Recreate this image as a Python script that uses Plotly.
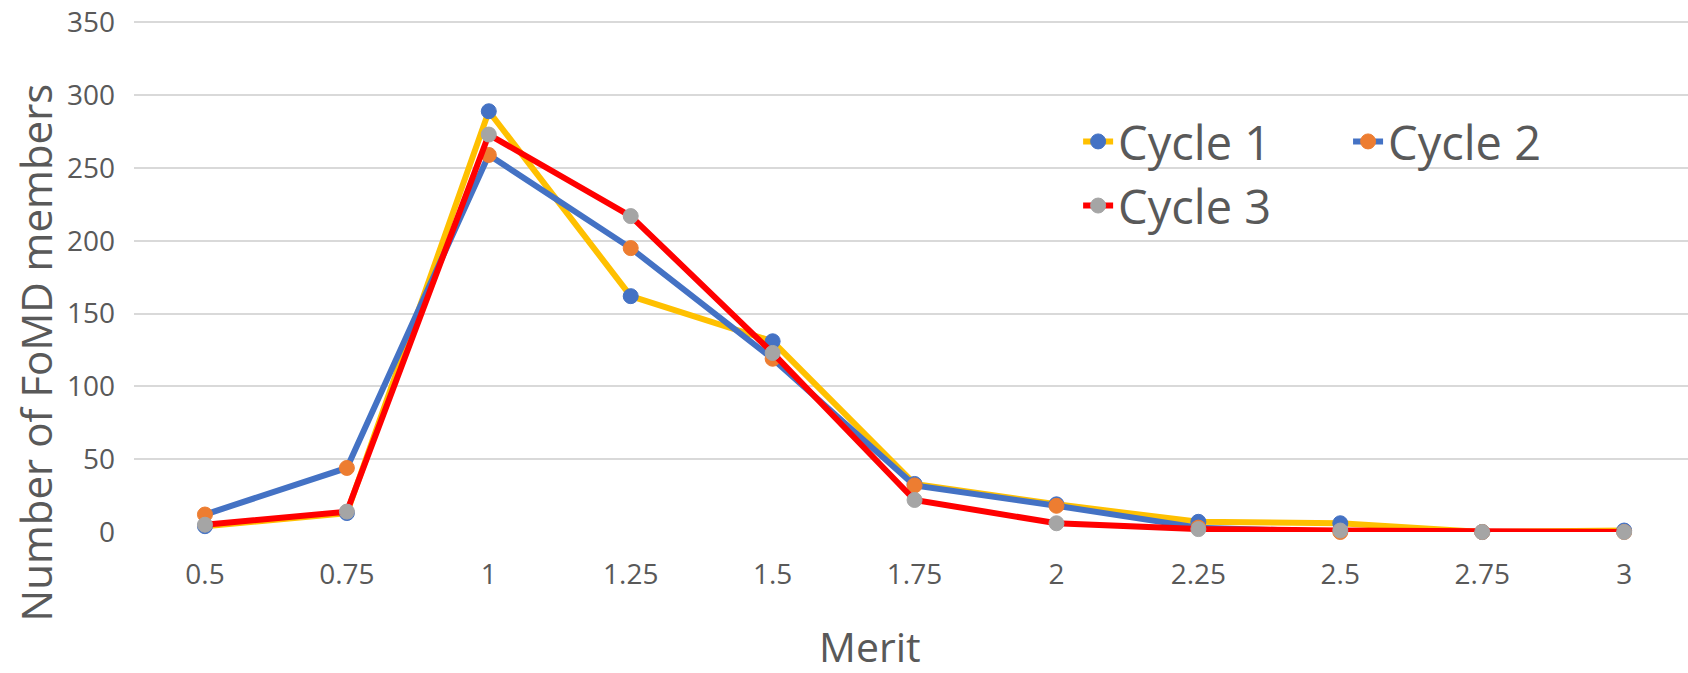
import plotly.graph_objects as go

merit = ["0.5", "0.75", "1", "1.25", "1.5", "1.75", "2", "2.25", "2.5", "2.75", "3"]
cycle1 = [4, 13, 289, 162, 131, 33, 19, 7, 6, 0, 1]
cycle2 = [12, 44, 259, 195, 119, 32, 18, 3, 0, 0, 0]
cycle3 = [5, 14, 273, 217, 123, 22, 6, 2, 1, 0, 0]
y_ticks = [0, 50, 100, 150, 200, 250, 300, 350]

series = [
    ("Cycle 1", cycle1, "#FFC000", "#4472C4", "legend"),
    ("Cycle 2", cycle2, "#4472C4", "#ED7D31", "legend2"),
    ("Cycle 3", cycle3, "#FF0000", "#A5A5A5", "legend"),
]

FONT = "Open Sans"
TXT = "#595959"

W, H = 1688, 673
L, R = 133.7, 0
BOT = 532                    # pixel y of value 0
PXU = 510 / 350              # pixels per unit
YTOP = 351
T = BOT - YTOP * PXU
B = H - BOT
PW = W - L - R
PH = H - T - B


def px(page_x):
    return (page_x - L) / PW


def py(page_y):
    return (H - B - page_y) / PH


fig = go.Figure()
for name, vals, lc, mc, lg in series:
    fig.add_trace(go.Scatter(
        x=merit, y=vals, name=name, mode="lines+markers",
        line=dict(color=lc, width=6),
        marker=dict(color=mc, size=15, line=dict(color=mc, width=1)),
        cliponaxis=False, legend=lg, hoverinfo="skip",
    ))

leg_common = dict(
    orientation="v", xanchor="left", yanchor="top",
    font=dict(size=47, color=TXT, family=FONT),
    bgcolor="rgba(0,0,0,0)", itemsizing="trace", tracegroupgap=0,
)

fig.update_layout(
    width=W, height=H,
    margin=dict(l=L, r=R, t=T, b=B, autoexpand=False),
    plot_bgcolor="white", paper_bgcolor="white",
    font=dict(family=FONT, color=TXT),
    showlegend=True,
    legend=dict(x=px(1078), y=py(104), **leg_common),
    legend2=dict(x=px(1348), y=py(104), **leg_common),
    xaxis=dict(
        type="category", range=[-0.5, 10.45], automargin=False,
        showgrid=False, showline=False, zeroline=False,
        tickfont=dict(size=28, color=TXT, family=FONT),
        ticklabelstandoff=23, ticklabeloverflow="allow",
    ),
    yaxis=dict(
        range=[0, YTOP], tickvals=y_ticks, automargin=False,
        showgrid=True, gridcolor="#D9D9D9", gridwidth=1.5,
        zeroline=False, showline=False,
        tickfont=dict(size=28, color=TXT, family=FONT),
        ticklabelstandoff=18, ticklabeloverflow="allow",
    ),
    annotations=[
        dict(text="Merit", xref="paper", yref="paper",
             x=px(870), y=py(646),
             xanchor="center", yanchor="middle", showarrow=False,
             font=dict(size=41, color=TXT, family=FONT)),
        dict(text="Number of FoMD members", xref="paper", yref="paper",
             x=px(35), y=py(352),
             xanchor="center", yanchor="middle", showarrow=False, textangle=-90,
             font=dict(size=42, color=TXT, family=FONT)),
    ],
)

fig.write_html(
    "out.html",
    config={"displayModeBar": False},
    post_script="document.body.style.margin='0';document.body.style.overflow='hidden';",
)
